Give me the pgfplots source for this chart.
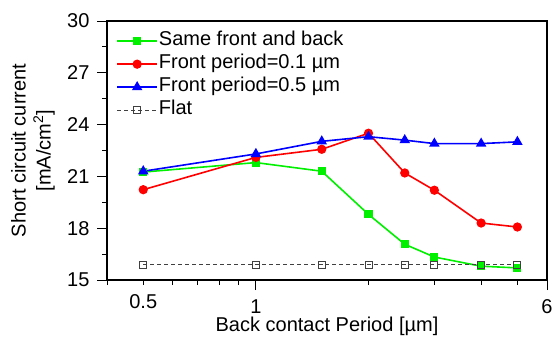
\documentclass[border=0pt]{standalone}
\usepackage{pgfplots}
\pgfplotsset{compat=1.18}
\usepackage{fontspec}
\setmainfont{Liberation Sans}
\begin{document}
\begin{tikzpicture}
\path[use as bounding box] (-107pt,-59pt) rectangle (446pt,280pt);
\begin{axis}[
  at={(0pt,0pt)}, anchor=south west,
  scale only axis,
  width=440pt, height=259pt,
  xmode=log, log basis x=10,
  xmin=0.4, xmax=6, ymin=15, ymax=30,
  xtick={1,6}, xticklabels={1,6},
  extra x ticks={0.5}, extra x tick labels={0.5},
  extra x tick style={major tick length=5pt},
  minor xtick={0.4,0.6,0.7,0.8,0.9,2,3,4,5},
  ytick={15,18,21,24,27,30},
  minor ytick={16.5,19.5,22.5,25.5,28.5},
  tick align=outside, tick pos=left,
  major tick length=10pt, minor tick length=5pt,
  every tick/.style={black, line width=0.9pt},
  axis line style={line width=1.1pt},
  font=\fontsize{20}{25}\selectfont,
  /pgf/number format/assume math mode=true,
  log ticks with fixed point,
  xticklabel style={yshift=-6pt},
  yticklabel style={xshift=-4pt},
  xlabel={Back contact Period [µm]},
  ylabel={Short circuit current\\{[mA/cm\textsuperscript{2}]}},
  ylabel style={at={(axis description cs:-0.168,0.5)}, anchor=center, align=center},
  xlabel style={at={(axis description cs:0.5,-0.18)}, anchor=center},
  legend style={at={(0.014,0.975)}, anchor=north west, draw=none, fill=none,
    font=\fontsize{20}{22}\selectfont, row sep=0pt,
    nodes={inner sep=1pt, text height=15pt, text depth=6pt}},
  legend cell align=left,
  legend image code/.code={
    \draw[mark repeat=2,mark phase=2,#1] plot coordinates {(0pt,0pt) (20pt,0pt) (40pt,0pt)};
  },
]
\addplot[color={rgb,255:red,0;green,240;blue,0}, line width=1.6pt, mark=square*, mark size=3.3pt, mark options={solid}] coordinates {
(0.5,21.25) (1,21.8) (1.5,21.3) (2,18.8) (2.5,17.07) (3,16.33) (4,15.8) (5,15.7)};
\addlegendentry{Same front and back}
\addplot[color=red, line width=1.6pt, mark=*, mark size=3.8pt] coordinates {
(0.5,20.23) (1,22.1) (1.5,22.57) (2,23.5) (2.5,21.2) (3,20.2) (4,18.3) (5,18.07)};
\addlegendentry{Front period=0.1 µm}
\addplot[color=blue, line width=1.6pt, mark=triangle*, mark size=4.5pt] coordinates {
(0.5,21.3) (1,22.3) (1.5,23.03) (2,23.3) (2.5,23.1) (3,22.9) (4,22.9) (5,23.0)};
\addlegendentry{Front period=0.5 µm}
\addplot[color=black!75, line width=0.9pt, dash pattern=on 4pt off 3pt, mark=square, mark size=3.5pt, mark options={solid, line width=0.9pt}] coordinates {
(0.5,15.9) (1,15.9) (1.5,15.9) (2,15.9) (2.5,15.9) (3,15.9) (4,15.9) (5,15.9)};
\addlegendentry{Flat}
\end{axis}
\end{tikzpicture}
\end{document}
